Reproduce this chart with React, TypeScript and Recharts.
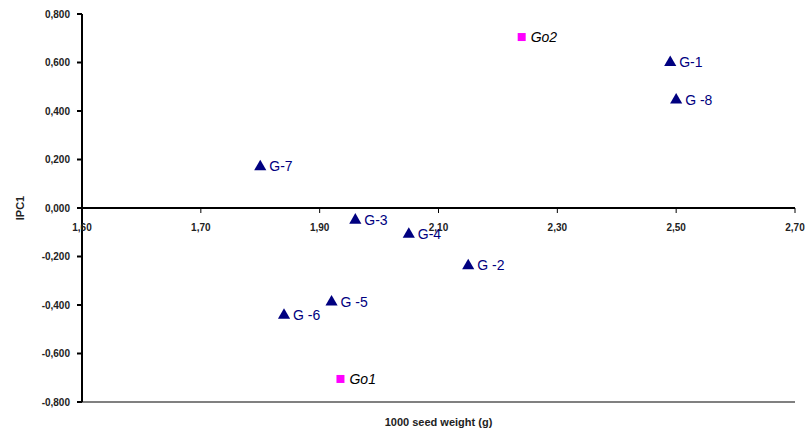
import React from "react";
import {
  ScatterChart,
  Scatter,
  XAxis,
  YAxis,
  ZAxis,
  ReferenceLine,
  LabelList,
} from "recharts";

// genotypes (navy triangles) and parents (magenta squares)
const genoNames = ["G-1", "G -8", "G-7", "G-3", "G-4", "G -2", "G -5", "G -6"];
const genoWeight = [2.49, 2.5, 1.8, 1.96, 2.05, 2.15, 1.92, 1.84];
const genoIpc1 = [0.6, 0.445, 0.17, -0.05, -0.108, -0.238, -0.388, -0.442];

const parentNames = ["Go2", "Go1"];
const parentWeight = [2.24, 1.935];
const parentIpc1 = [0.705, -0.705];

const xTicks = [1.5, 1.7, 1.9, 2.1, 2.3, 2.5, 2.7];
const xTickLabels = ["1,60", "1,70", "1,90", "2,10", "2,30", "2,50", "2,70"];
const yTicks = [-0.8, -0.6, -0.4, -0.2, 0, 0.2, 0.4, 0.6, 0.8];

const X_DOMAIN: [number, number] = [1.5, 2.7];
const Y_DOMAIN: [number, number] = [-0.8, 0.8];

const W = 806;
const H = 436;
const MARGIN = { top: 14, right: 11, left: 0, bottom: 0 };
const X_AXIS_H = 34;
const PLOT_H = H - MARGIN.top - MARGIN.bottom - X_AXIS_H;
// the x axis crosses at IPC1 = 0, so its ticks sit above the plot bottom
const ZERO_SHIFT = (PLOT_H * (0 - Y_DOMAIN[0])) / (Y_DOMAIN[1] - Y_DOMAIN[0]);

const FONT = "'Liberation Sans', Arial, sans-serif";

const genoData = genoNames.map((name, i) => ({ name, x: genoWeight[i], y: genoIpc1[i] }));
const parentData = parentNames.map((name, i) => ({ name, x: parentWeight[i], y: parentIpc1[i] }));

const fmtY = (v: number) => (Math.abs(v) < 1e-9 ? "0,000" : v.toFixed(3).replace(".", ","));

function XTick(props: any) {
  const { x, y, payload } = props;
  const idx = xTicks.indexOf(payload.value);
  const y0 = y - ZERO_SHIFT;
  return (
    <g>
      <line x1={x} x2={x} y1={y0} y2={y0 + 5} stroke="#000" strokeWidth={1} />
      <text
        x={x}
        y={y0 + 20}
        textAnchor="middle"
        dominantBaseline="middle"
        fontFamily={FONT}
        fontSize={10}
        fontWeight="bold"
        fill="#222"
      >
        {idx >= 0 ? xTickLabels[idx] : ""}
      </text>
    </g>
  );
}

const pointLabel = (color: string, italic: boolean) => (props: any) => {
  const { x, y, width, height, value } = props;
  return (
    <text
      x={x + width / 2 + 9}
      y={y + height / 2 + 1}
      dominantBaseline="middle"
      fontFamily={FONT}
      fontSize={14}
      fontStyle={italic ? "italic" : "normal"}
      fill={color}
    >
      {value}
    </text>
  );
};

export default function App() {
  return (
    <div style={{ position: "absolute", left: 0, top: 0 }}>
      <ScatterChart width={W} height={H} margin={MARGIN}>
        <XAxis
          type="number"
          dataKey="x"
          domain={X_DOMAIN}
          ticks={xTicks}
          interval={0}
          height={X_AXIS_H}
          axisLine={{ stroke: "#808080", strokeWidth: 2 }}
          tickLine={false}
          tickSize={0}
          tickMargin={0}
          tick={<XTick />}
          allowDataOverflow
          label={{
            value: "1000 seed weight (g)",
            position: "insideBottom",
            offset: 10,
            fontFamily: FONT,
            fontSize: 11,
            fontWeight: "bold",
            fill: "#222",
          }}
        />
        <XAxis
          xAxisId="top"
          orientation="top"
          type="number"
          dataKey="x"
          domain={X_DOMAIN}
          height={0}
          axisLine={{ stroke: "#808080", strokeWidth: 2 }}
          tick={false}
          tickLine={false}
        />
        <YAxis
          type="number"
          dataKey="y"
          domain={Y_DOMAIN}
          ticks={yTicks}
          interval={0}
          width={82}
          axisLine={{ stroke: "#000", strokeWidth: 2 }}
          tickLine={{ stroke: "#000", strokeWidth: 2 }}
          tickSize={5}
          tickMargin={7}
          tickFormatter={fmtY}
          tick={{ fontFamily: FONT, fontSize: 10, fontWeight: "bold", fill: "#222" }}
          allowDataOverflow
          label={{
            content: ({ viewBox }: any) => {
              const cx = viewBox.x + 21;
              const cy = viewBox.y + viewBox.height / 2;
              return (
                <text
                  x={cx}
                  y={cy}
                  transform={`rotate(-90 ${cx} ${cy})`}
                  textAnchor="middle"
                  dominantBaseline="middle"
                  fontFamily={FONT}
                  fontSize={11}
                  fontWeight="bold"
                  fill="#222"
                >
                  IPC1
                </text>
              );
            },
          }}
        />
        <YAxis
          yAxisId="right"
          orientation="right"
          type="number"
          dataKey="y"
          domain={Y_DOMAIN}
          width={0}
          axisLine={{ stroke: "#808080", strokeWidth: 2 }}
          tick={false}
          tickLine={false}
        />
        <ZAxis range={[40, 40]} />
        <ReferenceLine y={0} stroke="#000" strokeWidth={2} />
        <Scatter data={genoData} fill="#000080" shape="triangle" isAnimationActive={false}>
          <LabelList dataKey="name" content={pointLabel("#000080", false)} />
        </Scatter>
        <Scatter data={parentData} fill="#ff00ff" shape="square" isAnimationActive={false}>
          <LabelList dataKey="name" content={pointLabel("#000", true)} />
        </Scatter>
      </ScatterChart>
    </div>
  );
}
